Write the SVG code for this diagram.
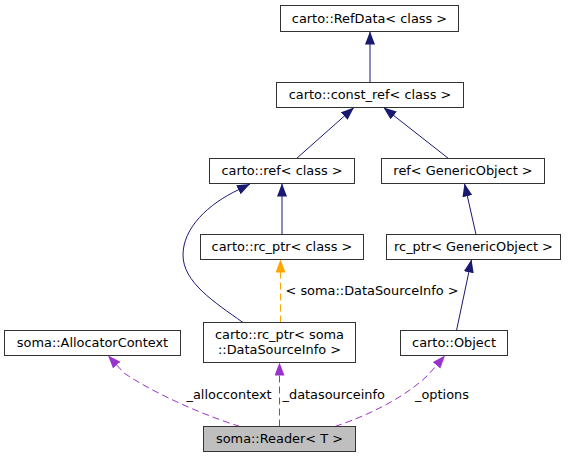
<svg xmlns="http://www.w3.org/2000/svg" width="574" height="459" viewBox="0 0 574 459">
<style>
  .node rect { fill: #ffffff; stroke: #333333; stroke-width: 1; }
  .node.current rect { fill: #bfbfbf; }
  .node text, .elabel { font-family: "DejaVu Sans", "Liberation Sans", sans-serif; font-size: 12.9px; fill: #000000; }
  .node text { text-anchor: middle; }
  .e { fill: none; stroke-width: 1; }
  .inh { stroke: #191970; marker-end: url(#aNavy); }
  .tpl { stroke: #ffa500; stroke-dasharray: 7,4; marker-end: url(#aOrange); }
  .use { stroke: #9a32cd; stroke-dasharray: 7,4; marker-end: url(#aPurple); }
</style>
<defs>
  <marker id="aNavy" markerUnits="userSpaceOnUse" markerWidth="14" markerHeight="11" refX="13" refY="5" orient="auto">
    <path d="M0,0 L13,5 L0,10 z" fill="#191970"/>
  </marker>
  <marker id="aOrange" markerUnits="userSpaceOnUse" markerWidth="14" markerHeight="11" refX="13" refY="5" orient="auto">
    <path d="M0,0 L13,5 L0,10 z" fill="#ffa500"/>
  </marker>
  <marker id="aPurple" markerUnits="userSpaceOnUse" markerWidth="14" markerHeight="11" refX="13" refY="5" orient="auto">
    <path d="M0,0 L13,5 L0,10 z" fill="#9a32cd"/>
  </marker>
</defs>
<rect x="0" y="0" width="574" height="459" fill="#ffffff"/>

<g id="connectors">
  <path class="e inh" d="M370,82.5 L370,31.5"/>
  <path class="e inh" d="M296.5,158.5 L354,107.5"/>
  <path class="e inh" d="M448.5,158.5 L383.5,107.5"/>
  <path class="e inh" d="M282,234.5 L282,183.5"/>
  <path class="e inh" d="M243,322.5 C214,302 183,282 183,255 C183,228 208,204 239,189.5 L250,184"/>
  <path class="e inh" d="M476,234.5 L464.5,183.5"/>
  <path class="e inh" d="M456.5,330.5 L471.5,259.5"/>
  <path class="e tpl" d="M280.5,322.5 L280.5,259.5"/>
  <text class="elabel" x="285.5" y="294.5">&lt; soma::DataSourceInfo &gt;</text>
  <path class="e use" d="M240,426.5 C200,414 152,392 124,373 L108,355.5"/>
  <text class="elabel" x="186.5" y="399">_alloccontext</text>
  <path class="e use" d="M279.5,426.5 L279.5,362.5"/>
  <text class="elabel" x="282.5" y="399">_datasourceinfo</text>
  <path class="e use" d="M335,426.5 C372,414 407,396 429,374 L445,355.5"/>
  <text class="elabel" x="415" y="399">_options</text>
</g>

<g id="node-refdata" class="node">
  <rect x="280.5" y="5.5" width="178" height="26"/>
  <text x="369.5" y="22.5">carto::RefData&lt; class &gt;</text>
</g>
<g id="node-const-ref" class="node">
  <rect x="276.5" y="82.5" width="187" height="25"/>
  <text x="370" y="99">carto::const_ref&lt; class &gt;</text>
</g>
<g id="node-ref" class="node">
  <rect x="209.5" y="158.5" width="145" height="25"/>
  <text x="282" y="175">carto::ref&lt; class &gt;</text>
</g>
<g id="node-ref-generic" class="node">
  <rect x="381.5" y="158.5" width="163" height="25"/>
  <text x="463" y="175">ref&lt; GenericObject &gt;</text>
</g>
<g id="node-rc-ptr" class="node">
  <rect x="200.5" y="234.5" width="163" height="25"/>
  <text x="282" y="251">carto::rc_ptr&lt; class &gt;</text>
</g>
<g id="node-rc-ptr-generic" class="node">
  <rect x="386.5" y="234.5" width="174" height="25"/>
  <text x="473.5" y="251">rc_ptr&lt; GenericObject &gt;</text>
</g>
<g id="node-alloc" class="node">
  <rect x="4.5" y="330.5" width="176" height="25"/>
  <text x="92.5" y="347">soma::AllocatorContext</text>
</g>
<g id="node-rc-ptr-dsi" class="node">
  <rect x="203.5" y="322.5" width="152" height="40"/>
  <text x="279.5" y="339">carto::rc_ptr&lt; soma</text>
  <text x="279.5" y="354">::DataSourceInfo &gt;</text>
</g>
<g id="node-object" class="node">
  <rect x="400.5" y="330.5" width="107" height="25"/>
  <text x="454" y="347">carto::Object</text>
</g>
<g id="node-reader" class="node current">
  <rect x="203.5" y="426.5" width="152" height="25"/>
  <text x="279.5" y="443">soma::Reader&lt; T &gt;</text>
</g>
</svg>
